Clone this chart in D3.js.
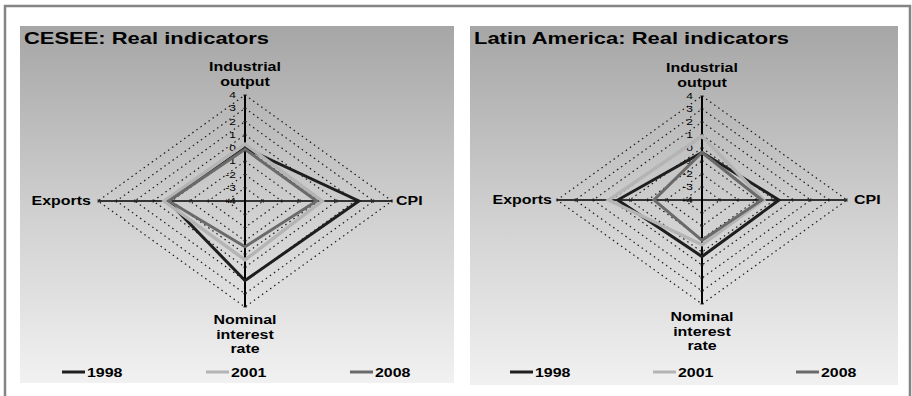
<!DOCTYPE html>
<html><head><meta charset="utf-8">
<script src="https://cdn.jsdelivr.net/npm/d3@7"></script>
<style>
html,body{margin:0;padding:0;background:#fff;}
svg text{font-family:"Liberation Sans",Arial,sans-serif;}
</style></head>
<body>
<svg id="c" width="912" height="396"></svg>
<script>
// ---- data ----
const categories = ["Industrial output", "CPI", "Nominal interest rate", "Exports"];
const series = ["1998", "2001", "2008"];
const tickValues = [-4, -3, -2, -1, 0, 1, 2, 3, 4];
const ceseeTitle = "CESEE: Real indicators";
const latamTitle = "Latin America: Real indicators";
const cesee1998 = [0.0, 2.2, 2.0, 0.2];
const cesee2001 = [0.3, 0.2, 0.45, 0.4];
const cesee2008 = [-0.1, -0.1, -0.55, 0.15];
const latam1998 = [-0.35, 0.25, 0.35, 0.65];
const latam2001 = [0.9, -0.6, -0.55, 1.15];
const latam2008 = [-0.35, -0.7, -0.9, -1.35];

// ---- styles / layout ----
const colors = {"1998": "#1e1e1e", "2001": "#b4b4b4", "2008": "#6a6a6a"};
const SX = 1.33; // horizontal text stretch seen in the reference
const svg = d3.select("#c");

const defs = svg.append("defs");
const grad = defs.append("linearGradient").attr("id", "bg").attr("x1", 0).attr("y1", 0).attr("x2", 0).attr("y2", 1);
grad.append("stop").attr("offset", "0%").attr("stop-color", "#a6a6a6");
grad.append("stop").attr("offset", "55%").attr("stop-color", "#d2d2d2");
grad.append("stop").attr("offset", "100%").attr("stop-color", "#f1f1f1");

// outer frame
svg.append("path").attr("d", "M5,396 V6 H910 V396").attr("fill", "none").attr("stroke", "#858585").attr("stroke-width", 2.5);

function stext(g, x, y, str, opts) {
  return g.append("text")
    .attr("transform", `translate(${x},${y}) scale(${SX},1)`)
    .attr("text-anchor", opts.anchor || "start")
    .attr("font-size", opts.size)
    .attr("font-weight", opts.weight || "bold")
    .attr("fill", opts.fill || "#000")
    .text(str);
}

const panels = [
  {title: ceseeTitle, box: [20, 26, 434, 357], cx: 245, cy: 201, rx: 147, ry: 106,
   data: {"1998": cesee1998, "2001": cesee2001, "2008": cesee2008},
   legendY: 372, legendX: [62, 206, 350], lab: {topY: 71, botY: 324, expX: 91, cpiX: 396, sideY: 205}},
  {title: latamTitle, box: [470, 26, 428, 359], cx: 702, cy: 200, rx: 145, ry: 104,
   data: {"1998": latam1998, "2001": latam2001, "2008": latam2008},
   legendY: 372, legendX: [510, 653, 796], lab: {topY: 72, botY: 321, expX: 552, cpiX: 854, sideY: 204}}
];

const rScale = d3.scaleLinear().domain([-4, 4]).range([0, 1]);
const angles = categories.map((c, i) => i * Math.PI / 2);

panels.forEach(p => {
  const g = svg.append("g");
  g.append("rect").attr("x", p.box[0]).attr("y", p.box[1]).attr("width", p.box[2]).attr("height", p.box[3]).attr("fill", "url(#bg)");
  stext(g, p.box[0] + 4, 44, p.title, {size: 16.5});

  const pt = (v, i) => {
    const r = rScale(v);
    return [p.cx + p.rx * r * Math.sin(angles[i]), p.cy - p.ry * r * Math.cos(angles[i])];
  };

  // dotted grid diamonds
  tickValues.filter(v => v > -4).forEach(v => {
    g.append("path")
      .attr("d", d3.line()(categories.map((c, i) => pt(v, i))) + "Z")
      .attr("fill", "none").attr("stroke", "#1a1a1a").attr("stroke-width", 1.2)
      .attr("stroke-dasharray", "1.5,3.5");
  });

  // spokes
  categories.forEach((c, i) => {
    const [x2, y2] = pt(4, i);
    g.append("line").attr("x1", p.cx).attr("y1", p.cy).attr("x2", x2).attr("y2", y2)
      .attr("stroke", "#000").attr("stroke-width", i % 2 === 0 ? 2 : 1.6);
    tickValues.filter(v => v > -4).forEach(v => {
      const [tx, ty] = pt(v, i);
      if (i % 2 === 0) g.append("line").attr("x1", tx - 1.8).attr("x2", tx + 1.8).attr("y1", ty).attr("y2", ty).attr("stroke", "#222").attr("stroke-width", 0.8);
      else g.append("line").attr("x1", tx).attr("x2", tx).attr("y1", ty - 1.8).attr("y2", ty + 1.8).attr("stroke", "#222").attr("stroke-width", 0.8);
    });
  });

  // tick labels
  tickValues.forEach(v => {
    const [tx, ty] = pt(v, 0);
    stext(g, p.cx - 9, ty + 3.2, String(v), {size: 9, weight: "normal", anchor: "end", fill: "#000"});
  });

  // series
  series.forEach(s => {
    g.append("path")
      .attr("d", d3.line()(p.data[s].map((v, i) => pt(v, i))) + "Z")
      .attr("fill", "none").attr("stroke", colors[s])
      .attr("stroke-width", s === "2001" ? 3.4 : 3).attr("stroke-linejoin", "miter");
  });

  // axis labels
  stext(g, p.cx, p.lab.topY, "Industrial", {size: 12, anchor: "middle"});
  stext(g, p.cx, p.lab.topY + 15, "output", {size: 12, anchor: "middle"});
  stext(g, p.lab.expX, p.lab.sideY, "Exports", {size: 12, anchor: "end"});
  stext(g, p.lab.cpiX, p.lab.sideY, "CPI", {size: 12, anchor: "start"});
  ["Nominal", "interest", "rate"].forEach((w, k) => {
    stext(g, p.cx, p.lab.botY + k * 14.5, w, {size: 12, anchor: "middle"});
  });

  // legend
  series.forEach((s, k) => {
    const lx = p.legendX[k];
    g.append("line").attr("x1", lx).attr("x2", lx + 23).attr("y1", p.legendY).attr("y2", p.legendY)
      .attr("stroke", colors[s]).attr("stroke-width", 3);
    stext(g, lx + 25, p.legendY + 4.5, s, {size: 12});
  });
});
</script>
</body></html>
